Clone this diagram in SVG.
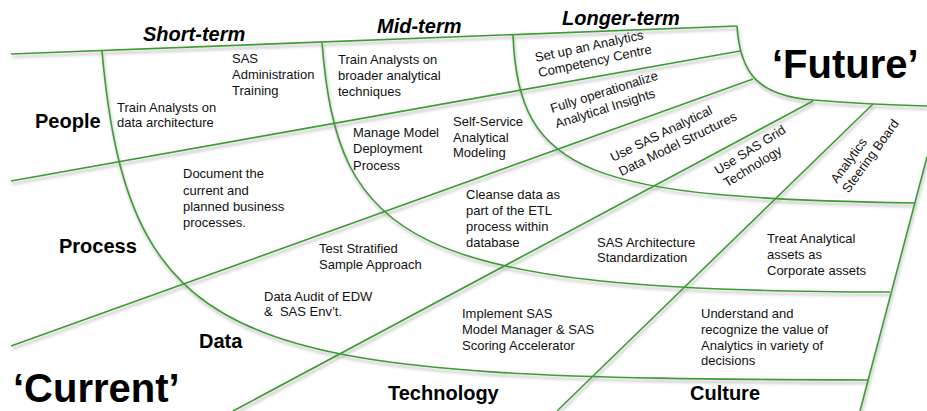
<svg xmlns="http://www.w3.org/2000/svg" width="927" height="411" viewBox="0 0 927 411">
<style>
.ln{fill:none;stroke:#3c9c32;stroke-width:1.6}
.t{font-family:"Liberation Sans",Arial,sans-serif;font-size:13px;fill:#111}
.h{font-family:"Liberation Sans",Arial,sans-serif;font-size:20px;font-weight:bold;fill:#000}
.hi{font-family:"Liberation Sans",Arial,sans-serif;font-size:20px;font-weight:bold;font-style:italic;fill:#000}
.big{font-family:"Liberation Sans",Arial,sans-serif;font-size:40px;font-weight:bold;fill:#000}
</style>
<defs>
<filter id="sh" x="-5%" y="-5%" width="110%" height="115%">
<feDropShadow dx="1" dy="3" stdDeviation="1.6" flood-color="#777" flood-opacity="0.55"/>
</filter>
</defs>
<rect width="927" height="411" fill="#fff"/>
<g id="connectors" filter="url(#sh)">
<path class="ln" d="M11,54 L737,26"/>
<path class="ln" d="M737,26 C740,75 760,96 813,100 C850,103 890,105 927,106"/>
<path class="ln" d="M11,181 L740,51"/>
<path class="ln" d="M11,346 L753,79"/>
<path class="ln" d="M233,411 L813,101"/>
<path class="ln" d="M557,411 L873,104"/>
<path class="ln" d="M927,157 L860,411"/>
<path class="ln" d="M102,51 C130,365 250,378 868,380"/>
<path class="ln" d="M322,43 C338,240 405,292 890,292"/>
<path class="ln" d="M513,35 C518,175 590,198 915,203"/>
</g>
<g id="headers">
<text class="hi" x="143" y="41">Short-term</text>
<text class="hi" x="377" y="33">Mid-term</text>
<text class="hi" x="562" y="25">Longer-term</text>
<text class="big" x="772" y="78">‘Future’</text>
<text class="big" x="13" y="402">‘Current’</text>
</g>
<g id="dimensions">
<text class="h" x="35" y="128">People</text>
<text class="h" x="59" y="253">Process</text>
<text class="h" x="199" y="348">Data</text>
<text class="h" x="388" y="400">Technology</text>
<text class="h" x="690" y="400">Culture</text>
</g>
<g id="n-sas-admin"><text class="t" x="232" y="63">SAS<tspan x="232" y="79">Administration</tspan><tspan x="232" y="95">Training</tspan></text></g>
<g id="n-train-data"><text class="t" x="117" y="112">Train Analysts on<tspan x="117" y="127">data architecture</tspan></text></g>
<g id="n-train-broader"><text class="t" x="338" y="64">Train Analysts on<tspan x="338" y="80">broader analytical</tspan><tspan x="338" y="96">techniques</tspan></text></g>
<g id="n-manage"><text class="t" x="353" y="137">Manage Model<tspan x="353" y="153">Deployment</tspan><tspan x="353" y="170">Process</tspan></text></g>
<g id="n-selfservice"><text class="t" x="453" y="126">Self-Service<tspan x="453" y="142">Analytical</tspan><tspan x="453" y="157">Modeling</tspan></text></g>
<g id="n-document"><text class="t" x="183" y="178">Document the<tspan x="183" y="195">current and</tspan><tspan x="183" y="211">planned business</tspan><tspan x="183" y="227">processes.</tspan></text></g>
<g id="n-cleanse"><text class="t" x="466" y="199">Cleanse data as<tspan x="466" y="215">part of the ETL</tspan><tspan x="466" y="231">process within</tspan><tspan x="466" y="247">database</tspan></text></g>
<g id="n-test"><text class="t" x="319" y="253">Test Stratified<tspan x="319" y="269">Sample Approach</tspan></text></g>
<g id="n-audit"><text class="t" x="264" y="301">Data Audit of EDW<tspan x="264" y="316" xml:space="preserve">&amp;  SAS Env’t.</tspan></text></g>
<g id="n-implement"><text class="t" x="462" y="318">Implement SAS<tspan x="462" y="334">Model Manager &amp; SAS</tspan><tspan x="462" y="350">Scoring Accelerator</tspan></text></g>
<g id="n-architecture"><text class="t" x="597" y="247">SAS Architecture<tspan x="597" y="262">Standardization</tspan></text></g>
<g id="n-treat"><text class="t" x="767" y="243">Treat Analytical<tspan x="767" y="259">assets as</tspan><tspan x="767" y="275">Corporate assets</tspan></text></g>
<g id="n-understand"><text class="t" x="701" y="318">Understand and<tspan x="701" y="334">recognize the value of</tspan><tspan x="701" y="350">Analytics in variety of</tspan><tspan x="701" y="365">decisions</tspan></text></g>
<g id="n-competency" transform="translate(536,62) rotate(-12)"><text class="t" x="0" y="0">Set up an Analytics<tspan x="0" y="15.5">Competency Centre</tspan></text></g>
<g id="n-operationalize" transform="translate(552,113) rotate(-17.5)"><text class="t" x="0" y="0">Fully operationalize<tspan x="0" y="16">Analytical Insights</tspan></text></g>
<g id="n-datamodel" transform="translate(613,162) rotate(-26)"><text class="t" x="0" y="0">Use SAS Analytical<tspan x="1.5" y="16.5">Data Model Structures</tspan></text></g>
<g id="n-grid" transform="translate(718,175) rotate(-32)"><text class="t" x="0" y="0">Use SAS Grid<tspan x="1" y="15.5">Technology</tspan></text></g>
<g id="n-steering" transform="translate(837,184) rotate(-54)"><text class="t" x="0" y="0">Analytics<tspan x="-1" y="15">Steering Board</tspan></text></g>
</svg>
